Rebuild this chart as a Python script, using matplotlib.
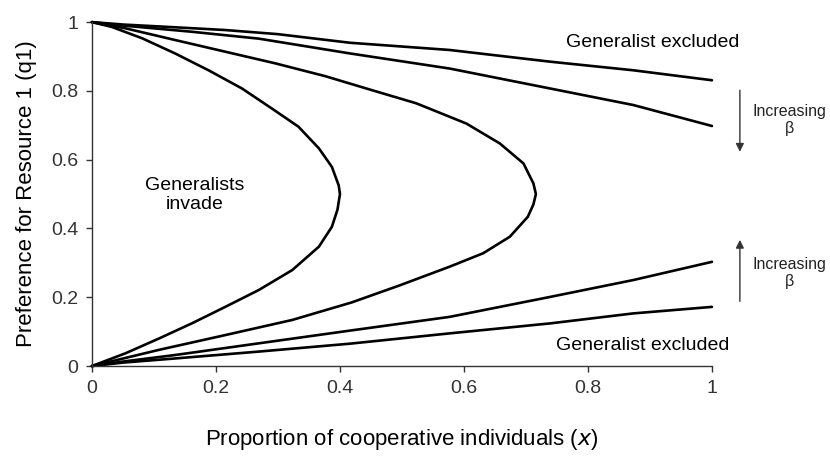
import matplotlib
matplotlib.use("Agg")
import matplotlib.pyplot as plt

plt.rcParams['font.family'] = ['Liberation Sans', 'DejaVu Sans']

# Curves (x = proportion cooperative, y = q1)
# two "excluded" boundaries, upper and lower branches
a_up_x = [0, 0.05, 0.134, 0.215, 0.30, 0.416, 0.577, 0.739, 0.873, 1.0]
a_up_y = [1.0, 0.993, 0.985, 0.977, 0.965, 0.940, 0.919, 0.885, 0.860, 0.831]
a_lo_x = [0, 0.05, 0.134, 0.269, 0.416, 0.577, 0.739, 0.873, 1.0]
a_lo_y = [0, 0.010, 0.022, 0.042, 0.065, 0.095, 0.124, 0.153, 0.172]

b_up_x = [0, 0.05, 0.161, 0.269, 0.416, 0.577, 0.739, 0.873, 1.0]
b_up_y = [1.0, 0.990, 0.972, 0.952, 0.909, 0.865, 0.807, 0.759, 0.698]
b_lo_x = [0, 0.05, 0.134, 0.269, 0.416, 0.577, 0.739, 0.873, 1.0]
b_lo_y = [0, 0.013, 0.032, 0.066, 0.103, 0.143, 0.201, 0.250, 0.303]

# two "invasion" loops, traced from (0,1) round the tip back to (0,0)
c_x = [0, 0.054, 0.134, 0.215, 0.296, 0.376, 0.45, 0.523, 0.604, 0.658,
       0.696, 0.712, 0.716, 0.712, 0.703, 0.674, 0.631, 0.577, 0.497, 0.419,
       0.323, 0.215, 0.108, 0]
c_y = [1.0, 0.982, 0.948, 0.914, 0.880, 0.843, 0.803, 0.764, 0.705, 0.647,
       0.589, 0.531, 0.50, 0.47, 0.434, 0.376, 0.328, 0.289, 0.235, 0.185,
       0.134, 0.090, 0.047, 0]

d_x = [0, 0.032, 0.081, 0.134, 0.188, 0.242, 0.290, 0.333, 0.366, 0.387,
       0.398, 0.400, 0.396, 0.387, 0.366, 0.323, 0.269, 0.215, 0.161, 0.108,
       0.054, 0]
d_y = [1.0, 0.986, 0.953, 0.909, 0.860, 0.807, 0.749, 0.696, 0.633, 0.579,
       0.525, 0.50, 0.455, 0.405, 0.347, 0.279, 0.221, 0.172, 0.124, 0.080,
       0.037, 0]

ticks = [0, 0.2, 0.4, 0.6, 0.8, 1]
tick_labels = ['0', '0.2', '0.4', '0.6', '0.8', '1']

fig = plt.figure(figsize=(8.3, 4.61), dpi=100)
ax = fig.add_axes([0.1108, 0.206, 0.747, 0.746])

lw = 1.9
for xs, ys in [(a_up_x, a_up_y), (a_lo_x, a_lo_y), (b_up_x, b_up_y),
               (b_lo_x, b_lo_y), (c_x, c_y), (d_x, d_y)]:
    ax.plot(xs, ys, color='black', lw=lw, solid_joinstyle='round',
            solid_capstyle='round', clip_on=False)

ax.set_xlim(0, 1)
ax.set_ylim(0, 1)
ax.set_xticks(ticks)
ax.set_xticklabels(tick_labels)
ax.set_yticks(ticks)
ax.set_yticklabels(tick_labels)
for s in ['top', 'right']:
    ax.spines[s].set_visible(False)
for s in ['left', 'bottom']:
    ax.spines[s].set_color('#333333')
    ax.spines[s].set_linewidth(1.0)
ax.tick_params(direction='out', length=4, width=1, color='#333333',
               labelsize=14, labelcolor='#333333', pad=6)

ax.set_xlabel('Proportion of cooperative individuals ($\\it{x}$)', fontsize=16, labelpad=22)
ax.set_ylabel('Preference for Resource 1 (q1)', fontsize=16, labelpad=10)

# annotations
ax.text(0.905, 0.942, 'Generalist excluded', fontsize=14, ha='center', va='center')
ax.text(0.889, 0.061, 'Generalist excluded', fontsize=14, ha='center', va='center')
ax.text(0.166, 0.497, 'Generalists\ninvade', fontsize=14, ha='center', va='center',
        linespacing=1.1)

arrow_kw = dict(arrowstyle='-|>', color='#333333', lw=1.0, mutation_scale=12)
ax.annotate('', xy=(1.045, 0.615), xytext=(1.045, 0.81), annotation_clip=False,
            arrowprops=arrow_kw)
ax.annotate('', xy=(1.045, 0.375), xytext=(1.045, 0.18), annotation_clip=False,
            arrowprops=arrow_kw)
ax.text(1.125, 0.715, 'Increasing\n\u03b2', fontsize=11.5, ha='center', va='center',
        linespacing=1.2, color='#222222')
ax.text(1.125, 0.27, 'Increasing\n\u03b2', fontsize=11.5, ha='center', va='center',
        linespacing=1.2, color='#222222')

fig.savefig('out.png', dpi=100)
